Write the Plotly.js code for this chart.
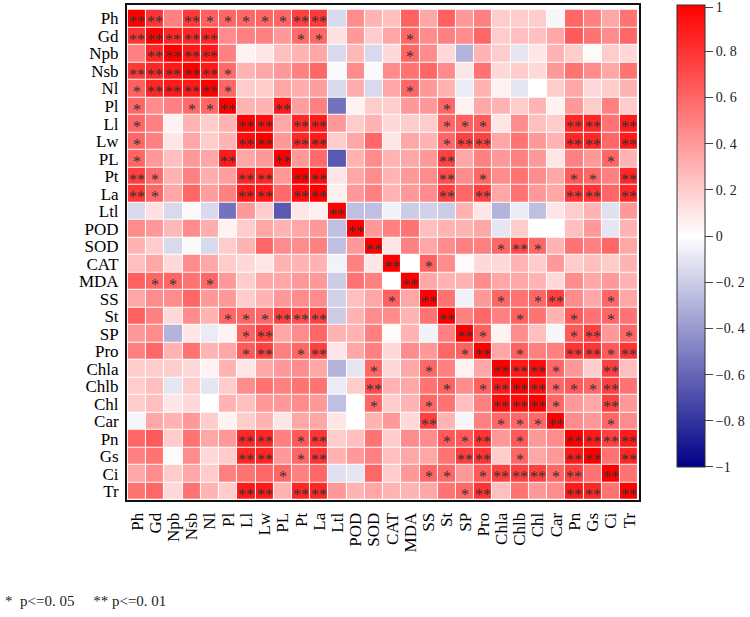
<!DOCTYPE html>
<html>
<head>
<meta charset="utf-8">
<script src="https://cdn.plot.ly/plotly-3.0.1.min.js"></script>
<style>html,body{margin:0;padding:0;background:#fff;}#chart{width:750px;height:617px;}</style>
</head>
<body>
<div id="chart"></div>
<script>
// Variable names (axis categories)
const labels = ['Ph','Gd','Npb','Nsb','Nl','Pl','Ll','Lw','PL','Pt','La','Ltl','POD','SOD','CAT','MDA','SS','St','SP','Pro','Chla','Chlb','Chl','Car','Pn','Gs','Ci','Tr'];

// Lower-triangle correlation rows (row i holds columns 0..i)
const r_Ph   = [1];
const r_Gd   = [0.80, 1];
const r_Npb  = [0.50, 0.85, 1];
const r_Nsb  = [0.78, 0.85, 0.90, 1];
const r_Nl   = [0.62, 0.85, 0.90, 0.90, 1];
const r_Pl   = [0.60, 0.45, 0.50, 0.58, 0.60, 1];
const r_Ll   = [0.60, 0.50, 0.05, 0.30, 0.20, 0.30, 1];
const r_Lw   = [0.60, 0.50, 0.10, 0.35, 0.20, 0.30, 0.95, 1];
const r_PL   = [0.60, 0.40, 0.25, 0.40, 0.35, 0.90, 0.35, 0.40, 1];
const r_Pt   = [0.75, 0.58, 0.30, 0.50, 0.32, 0.38, 0.85, 0.85, 0.40, 1];
const r_La   = [0.78, 0.60, 0.35, 0.60, 0.38, 0.50, 0.90, 0.90, 0.58, 0.95, 1];
const r_Ltl  = [-0.15, 0.12, -0.15, -0.02, -0.15, -0.55, 0.40, 0.20, -0.65, 0.10, 0.06, 1];
const r_POD  = [0.45, 0.40, 0.28, 0.45, 0.32, 0.05, 0.20, 0.35, 0.30, 0.35, 0.40, -0.25, 1];
const r_SOD  = [0.30, 0.20, -0.15, -0.02, -0.15, 0.20, 0.30, 0.60, 0.45, 0.45, 0.50, -0.25, 0.40, 1];
const r_CAT  = [0.25, 0.35, 0.15, 0.45, 0.35, 0.20, 0.15, 0.10, 0.30, 0.30, 0.30, -0.05, 0.50, 0.10, 1];
const r_MDA  = [0.62, 0.60, 0.60, 0.55, 0.60, 0.40, 0.20, 0.35, 0.35, 0.40, 0.40, -0.20, 0.55, 0.50, 0.00, 1];
const r_SS   = [0.35, 0.45, 0.45, 0.60, 0.40, 0.40, 0.20, 0.30, 0.40, 0.45, 0.45, -0.18, 0.25, 0.35, 0.62, 0.35, 1];
const r_St   = [0.62, 0.50, 0.15, 0.45, 0.30, 0.60, 0.60, 0.60, 0.75, 0.70, 0.75, -0.20, 0.30, 0.45, 0.45, 0.30, 0.55, 1];
const r_SP   = [0.40, 0.45, -0.30, 0.10, -0.08, 0.05, 0.62, 0.75, 0.35, 0.45, 0.60, 0.30, 0.30, 0.50, 0.02, 0.30, -0.05, 0.50, 1];
const r_Pro  = [0.50, 0.60, 0.30, 0.55, 0.30, 0.35, 0.65, 0.75, 0.50, 0.60, 0.75, 0.10, 0.35, 0.50, 0.15, 0.45, 0.40, 0.60, 0.62, 1];
const r_Chla = [0.20, 0.20, 0.20, 0.15, 0.05, 0.30, 0.10, 0.35, 0.40, 0.45, 0.35, -0.30, -0.10, 0.60, 0.15, 0.35, 0.60, 0.50, 0.05, 0.35, 1];
const r_Chlb = [0.20, 0.25, -0.10, 0.20, -0.10, 0.20, 0.45, 0.55, 0.50, 0.55, 0.55, -0.08, 0.20, 0.70, 0.30, 0.35, 0.55, 0.62, 0.45, 0.62, 0.90, 1];
const r_Chl  = [0.20, 0.25, 0.10, 0.15, 0.00, 0.30, 0.25, 0.40, 0.40, 0.45, 0.40, -0.25, 0.00, 0.60, 0.20, 0.30, 0.60, 0.55, 0.25, 0.50, 0.95, 0.95, 1];
const r_Car  = [-0.03, 0.35, 0.30, 0.40, 0.20, 0.05, 0.20, 0.30, 0.10, 0.35, 0.35, 0.10, 0.00, 0.30, 0.40, 0.15, 0.75, 0.30, -0.03, 0.50, 0.60, 0.60, 0.60, 1];
const r_Pn   = [0.60, 0.65, 0.20, 0.55, 0.35, 0.40, 0.85, 0.85, 0.50, 0.65, 0.80, 0.20, 0.25, 0.55, 0.20, 0.45, 0.45, 0.65, 0.65, 0.80, 0.40, 0.65, 0.40, 0.45, 1];
const r_Gs   = [0.50, 0.55, 0.02, 0.45, 0.15, 0.20, 0.85, 0.85, 0.40, 0.60, 0.80, 0.30, 0.40, 0.50, 0.25, 0.35, 0.35, 0.55, 0.75, 0.80, 0.20, 0.60, 0.35, 0.40, 0.90, 1];
const r_Ci   = [0.35, 0.45, 0.20, 0.35, 0.20, 0.50, 0.55, 0.60, 0.60, 0.50, 0.60, -0.12, -0.10, 0.60, 0.20, 0.40, 0.60, 0.60, 0.40, 0.65, 0.75, 0.75, 0.75, 0.60, 0.75, 0.55, 1];
const r_Tr   = [0.55, 0.60, 0.15, 0.55, 0.30, 0.20, 0.90, 0.90, 0.30, 0.85, 0.85, 0.40, 0.30, 0.35, 0.30, 0.30, 0.35, 0.55, 0.60, 0.80, 0.25, 0.55, 0.40, 0.45, 0.90, 0.85, 0.55, 1];

// Lower-triangle significance marks ('*' p<=0.05, '**' p<=0.01)
const s_Ph   = ['**'];
const s_Gd   = ['**','**'];
const s_Npb  = ['','**','**'];
const s_Nsb  = ['**','**','**','**'];
const s_Nl   = ['*','**','**','**','**'];
const s_Pl   = ['*','','','*','*','**'];
const s_Ll   = ['*','','','','','','**'];
const s_Lw   = ['*','','','','','','**','**'];
const s_PL   = ['*','','','','','**','','','**'];
const s_Pt   = ['**','*','','','','','**','**','','**'];
const s_La   = ['**','*','','','','','**','**','','**','**'];
const s_Ltl  = ['','','','','','','','','','','','**'];
const s_POD  = ['','','','','','','','','','','','','**'];
const s_SOD  = ['','','','','','','','','','','','','','**'];
const s_CAT  = ['','','','','','','','','','','','','','','**'];
const s_MDA  = ['','*','*','','*','','','','','','','','','','','**'];
const s_SS   = ['','','','','','','','','','','','','','','*','','**'];
const s_St   = ['','','','','','*','*','*','**','**','**','','','','','','','**'];
const s_SP   = ['','','','','','','*','**','','','','','','','','','','','**'];
const s_Pro  = ['','','','','','','*','**','','*','**','','','','','','','','*','**'];
const s_Chla = ['','','','','','','','','','','','','','*','','','*','','','','**'];
const s_Chlb = ['','','','','','','','','','','','','','**','','','','*','','*','**','**'];
const s_Chl  = ['','','','','','','','','','','','','','*','','','*','','','','**','**','**'];
const s_Car  = ['','','','','','','','','','','','','','','','','**','','','','*','*','*','**'];
const s_Pn   = ['','','','','','','**','**','','*','**','','','','','','','*','*','**','','*','','','**'];
const s_Gs   = ['','','','','','','**','**','','*','**','','','','','','','','**','**','','*','','','**','**'];
const s_Ci   = ['','','','','','','','','*','','','','','','','','*','*','','*','**','**','**','*','**','','**'];
const s_Tr   = ['','','','','','','**','**','','**','**','','','','','','','','*','**','','','','','**','**','','**'];

// Colorbar tick labels
const cbTickVals = [1, 0.8, 0.6, 0.4, 0.2, 0, -0.2, -0.4, -0.6, -0.8, -1];
const cbTickText = ['1','0. 8','0. 6','0. 4','0. 2','0','\u22120. 2','\u22120. 4','\u22120. 6','\u22120. 8','\u22121'];

const corrRows = [r_Ph,r_Gd,r_Npb,r_Nsb,r_Nl,r_Pl,r_Ll,r_Lw,r_PL,r_Pt,r_La,r_Ltl,r_POD,r_SOD,r_CAT,r_MDA,r_SS,r_St,r_SP,r_Pro,r_Chla,r_Chlb,r_Chl,r_Car,r_Pn,r_Gs,r_Ci,r_Tr];
const sigRows = [s_Ph,s_Gd,s_Npb,s_Nsb,s_Nl,s_Pl,s_Ll,s_Lw,s_PL,s_Pt,s_La,s_Ltl,s_POD,s_SOD,s_CAT,s_MDA,s_SS,s_St,s_SP,s_Pro,s_Chla,s_Chlb,s_Chl,s_Car,s_Pn,s_Gs,s_Ci,s_Tr];

const n = labels.length;
const z = [], sig = [];
for (let i = 0; i < n; i++) {
  z.push([]); sig.push([]);
  for (let j = 0; j < n; j++) {
    const a = Math.max(i, j), b = Math.min(i, j);
    z[i].push(corrRows[a][b]);
    sig[i].push(sigRows[a][b]);
  }
}

const serif = 'Liberation Serif, Times New Roman, serif';
const annotations = [];
for (let i = 0; i < n; i++) for (let j = 0; j < n; j++) {
  if (sig[i][j]) {
    annotations.push({
      x: labels[j], y: labels[i], xref: 'x', yref: 'y', text: sig[i][j],
      showarrow: false, yshift: -3, xanchor: 'center', yanchor: 'middle',
      font: {family: serif, size: 16, color: '#333'}
    });
  }
}
annotations.push({
  text: '*  p<=0. 05     ** p<=0. 01', xref: 'paper', yref: 'paper',
  x: -0.2427, y: -0.204, xanchor: 'left', yanchor: 'middle', showarrow: false,
  font: {family: serif, size: 15, color: '#222'}
});

const heat = {
  type: 'heatmap', x: labels, y: labels, z: z, zmin: -1, zmax: 1,
  xgap: 1, ygap: 1,
  colorscale: [[0, 'rgb(0,0,135)'], [0.5, 'rgb(255,255,255)'], [1, 'rgb(255,0,0)']],
  colorbar: {
    thickness: 28, thicknessmode: 'pixels', len: 462, lenmode: 'pixels',
    x: 1.0738, xanchor: 'left', y: 1, yanchor: 'top', xpad: 0, ypad: 0,
    outlinecolor: '#333', outlinewidth: 1,
    ticks: 'outside', ticklen: 8, tickcolor: '#444', tickwidth: 1,
    ticklabeloverflow: 'allow',
    tickmode: 'array',
    tickvals: cbTickVals.map(v => v === 1 ? 0.99 : (v === -1 ? -0.9995 : v)),
    ticktext: cbTickText,
    tickfont: {family: serif, size: 14, color: '#222'}
  },
  hoverinfo: 'skip'
};
const layout = {
  width: 750, height: 617,
  margin: {l: 127, r: 108, t: 5, b: 117},
  paper_bgcolor: '#fff', plot_bgcolor: '#fff',
  showlegend: false,
  xaxis: {type: 'category', tickmode: 'array', tickvals: labels, ticktext: labels,
    tickangle: -90, showgrid: false, zeroline: false,
    showline: true, mirror: true, linecolor: '#111', linewidth: 2, ticks: '',
    ticklabelstandoff: 4,
    tickfont: {family: serif, size: 17, color: '#000'}},
  yaxis: {type: 'category', tickmode: 'array', tickvals: labels, ticktext: labels,
    autorange: 'reversed', showgrid: false, zeroline: false,
    showline: true, mirror: true, linecolor: '#111', linewidth: 2, ticks: '',
    ticklabelstandoff: 3,
    tickfont: {family: serif, size: 17, color: '#000'}},
  annotations: annotations
};
Plotly.newPlot('chart', [heat], layout, {displayModeBar: false, staticPlot: true});
</script>
</body>
</html>
